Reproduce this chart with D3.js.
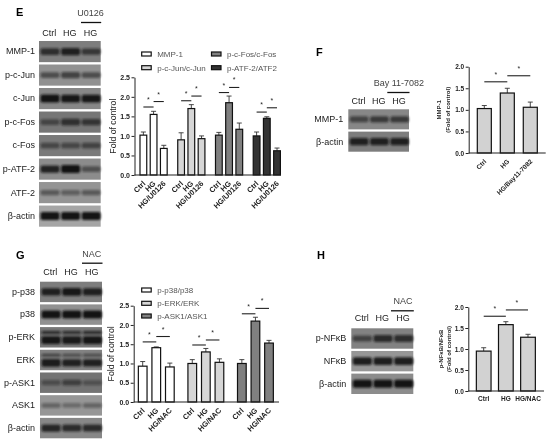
<!DOCTYPE html>
<html>
<head>
<meta charset="utf-8">
<script src="https://cdn.jsdelivr.net/npm/d3@7/dist/d3.min.js"></script>
<style>
  html, body { margin: 0; padding: 0; background: #fff; }
  svg { display: block; filter: blur(0.4px); }
  text { font-family: "Liberation Sans", Arial, sans-serif; fill: #262626; }
  .letter { font-size: 11px; font-weight: bold; fill: #000; }
  .blotLabel { font-size: 9px; fill: #444; }
  .legend { font-size: 8px; fill: #555; }
  .tick text { fill: #222; }
</style>
</head>
<body>
<div id="chart"></div>
<script>

//panel E bar values
var eGroups = ["MMP-1", "p-c-Jun/c-Jun", "p-c-Fos/c-Fos", "p-ATF-2/ATF2"];
var eConds = ["Ctrl", "HG", "HG/U0126"];
var eMmp = [1.02, 1.55, 0.68];
var eJun = [0.90, 1.70, 0.93];
var eFos = [1.02, 1.85, 1.17];
var eAtf = [1.00, 1.45, 0.62];
var eMmpErr = [0.08, 0.08, 0.08];
var eJunErr = [0.18, 0.10, 0.07];
var eFosErr = [0.07, 0.17, 0.16];
var eAtfErr = [0.10, 0.04, 0.07];
var eSig = [[1.74, 1.88], [1.90, 2.02], [2.11, 2.24], [1.61, 1.72]];
var eFills = ["#ffffff", "#d6d6d6", "#808080", "#333333"];
var eTicks = [0, 0.5, 1, 1.5, 2, 2.5];

//panel F bar values
var fConds = ["Ctrl", "HG", "HG/Bay11-7082"];
var fVals = [1.03, 1.39, 1.06];
var fErr = [0.07, 0.11, 0.12];
var fSig = [[1.65, 1.79]];
var fTicks = [0, 0.5, 1, 1.5, 2];

//panel G bar values
var gGroups = ["p-p38/p38", "p-ERK/ERK", "p-ASK1/ASK1"];
var gConds = ["Ctrl", "HG", "HG/NAC"];
var gP38 = [0.93, 1.41, 0.91];
var gErk = [1.00, 1.30, 1.03];
var gAsk = [1.00, 2.10, 1.53];
var gP38Err = [0.12, 0.02, 0.10];
var gErkErr = [0.10, 0.09, 0.09];
var gAskErr = [0.10, 0.10, 0.07];
var gSig = [[1.56, 1.70], [1.48, 1.61], [2.29, 2.43]];
var gFills = ["#ffffff", "#d6d6d6", "#808080"];

//panel H bar values
var hConds = ["Ctrl", "HG", "HG/NAC"];
var hVals = [0.95, 1.58, 1.28];
var hErr = [0.08, 0.07, 0.07];
var hSig = [[1.78, 1.93]];

//blots: row names, background grey level, band density per lane (0-1)
var eBlots = ["MMP-1", "p-c-Jun", "c-Jun", "p-c-Fos", "c-Fos", "p-ATF-2", "ATF-2", "β-actin"];
var eBlotGrey = [125, 145, 135, 118, 122, 140, 148, 165];
var eBands = [[0.7, 0.85, 0.6], [0.45, 0.55, 0.45], [1, 0.95, 0.95], [0.4, 0.65, 0.6], [0.4, 0.4, 0.45], [0.85, 1, 0.4], [0.35, 0.3, 0.35], [1, 1, 1]];
var fBlots = ["MMP-1", "β-actin"];
var fBlotGrey = [135, 125];
var fBands = [[0.5, 0.6, 0.6], [0.85, 0.85, 0.85]];
var gBlots = ["p-p38", "p38", "p-ERK", "ERK", "p-ASK1", "ASK1", "β-actin"];
var gBlotGrey = [125, 145, 120, 130, 115, 150, 135];
var gBands = [[0.85, 0.95, 0.85], [1, 1, 1], [0.95, 0.9, 0.95], [0.9, 0.85, 0.85], [0.3, 0.45, 0.25], [0.25, 0.2, 0.25], [0.8, 0.75, 0.75]];
var gUpper = [[0, 0, 0], [0, 0, 0], [0.75, 0.7, 0.75], [0.5, 0.4, 0.4], [0, 0, 0], [0, 0, 0], [0, 0, 0]];
var hBlots = ["p-NFκB", "NFκB", "β-actin"];
var hBlotGrey = [130, 150, 140];
var hBands = [[0.5, 0.75, 0.7], [0.9, 0.9, 0.9], [1, 1, 1]];

var laneNames = ["Ctrl", "HG", "HG"];


var svg = d3.select("#chart")
  .append("svg")
  .attr("width", 550)
  .attr("height", 445);

//soft edge for the blot bands
svg.append("defs")
  .append("filter")
  .attr("id", "soft")
  .attr("x", "-30%").attr("y", "-150%")
  .attr("width", "160%").attr("height", "400%")
  .append("feGaussianBlur")
  .attr("stdDeviation", 1.3);

var bandHeight = d3.scaleLinear().domain([0, 1]).range([4, 8]);
var bandOpacity = d3.scaleLinear().domain([0, 1]).range([0.15, 0.95]);


//panel letters
[["E", 16, 16], ["F", 316, 56], ["G", 16, 259], ["H", 317, 259]].forEach(function (d) {
  svg.append("text").attr("class", "letter").attr("x", d[1]).attr("y", d[2]).text(d[0]);
});


function drawBlot(b) {
  var rows = d3.scaleBand().domain(b.names).range([b.top, b.bottom]).paddingInner(0.1);
  var lanes = d3.scaleBand().domain([0, 1, 2]).range([b.left, b.right]).padding(0);

  var g = svg.append("g");

  //row backgrounds
  g.selectAll(".blotRow")
    .data(b.names)
    .enter()
    .append("rect")
    .attr("class", "blotRow")
    .attr("x", b.left)
    .attr("y", function (d) { return rows(d); })
    .attr("width", b.right - b.left)
    .attr("height", rows.bandwidth())
    .attr("fill", function (d, i) { return d3.rgb(b.grey[i], b.grey[i], b.grey[i]); });

  //bands, one per lane and row
  b.names.forEach(function (name, i) {
    var hasUpper = b.upper && d3.max(b.upper[i]) > 0;
    var bandY = rows(name) + rows.bandwidth() * (hasUpper ? 0.64 : 0.5);

    g.selectAll(".band" + i)
      .data(b.bands[i])
      .enter()
      .append("rect")
      .attr("class", "band" + i)
      .attr("filter", "url(#soft)")
      .attr("x", function (d, j) { return lanes(j) + 1.5; })
      .attr("width", lanes.bandwidth() - 1.5)
      .attr("y", function (d) { return bandY - bandHeight(d) / 2; })
      .attr("height", function (d) { return bandHeight(d); })
      .attr("rx", 2)
      .attr("fill", "#111")
      .attr("opacity", function (d) { return bandOpacity(d); });

    if (hasUpper) {
      g.selectAll(".upper" + i)
        .data(b.upper[i])
        .enter()
        .append("rect")
        .attr("class", "upper" + i)
        .attr("filter", "url(#soft)")
        .attr("x", function (d, j) { return lanes(j) + 1.5; })
        .attr("width", lanes.bandwidth() - 1.5)
        .attr("y", rows(name) + rows.bandwidth() * 0.27 - 1.5)
        .attr("height", 3)
        .attr("rx", 1.5)
        .attr("fill", "#111")
        .attr("opacity", function (d) { return bandOpacity(d); });
    }
  });

  //row names
  g.append("g")
    .attr("transform", "translate(" + b.left + ",0)")
    .call(d3.axisLeft(rows).tickSize(0).tickPadding(b.labelGap))
    .call(function (a) { a.select(".domain").remove(); })
    .selectAll("text")
    .attr("class", "blotLabel")
    .style("font-family", null);

  //lane names
  g.append("g")
    .attr("transform", "translate(0," + b.laneY + ")")
    .call(d3.axisTop(lanes).tickSize(0).tickPadding(0).tickFormat(function (i) { return laneNames[i]; }))
    .call(function (a) { a.select(".domain").remove(); })
    .selectAll("text")
    .attr("class", "blotLabel")
    .attr("dy", 0);

  //treatment above the last lane
  g.append("text")
    .attr("class", "blotLabel")
    .attr("text-anchor", "middle")
    .attr("x", lanes(2) + lanes.bandwidth() / 2)
    .attr("y", b.drugY)
    .text(b.drug);

  g.append("line")
    .attr("x1", b.lineLeft)
    .attr("x2", b.right + 0.5)
    .attr("y1", b.drugY + 6.5)
    .attr("y2", b.drugY + 6.5)
    .attr("stroke", "#111")
    .attr("stroke-width", 1.3);
}


function drawBars(c) {
  var y = d3.scaleLinear().domain(c.yDomain).range([c.y0, c.y1]);
  var outer = d3.scaleBand().domain(c.series.map(function (d, i) { return i; }))
    .range([c.x0, c.x1]).paddingInner(c.groupPad);
  var inner = d3.scaleBand().domain(c.conds)
    .range([0, outer.bandwidth()]).paddingInner(c.barPad);
  var center = function (d) { return inner(d) + inner.bandwidth() / 2; };

  var g = svg.append("g");

  c.series.forEach(function (vals, i) {
    var group = g.append("g").attr("transform", "translate(" + outer(i) + ",0)");
    var rowsData = c.conds.map(function (d, j) { return { cond: d, v: vals[j], e: c.errs[i][j] }; });

    //error bars
    group.selectAll(".err")
      .data(rowsData)
      .enter()
      .append("path")
      .attr("class", "err")
      .attr("fill", "none")
      .attr("stroke", "#333")
      .attr("stroke-width", 0.9)
      .attr("d", function (d) {
        var x = center(d.cond);
        return "M" + x + "," + y(d.v) + "V" + y(d.v + d.e) + "M" + (x - 2.5) + "," + y(d.v + d.e) + "H" + (x + 2.5);
      });

    //bars
    group.selectAll(".bar")
      .data(rowsData)
      .enter()
      .append("rect")
      .attr("class", "bar")
      .attr("x", function (d) { return inner(d.cond); })
      .attr("y", function (d) { return y(d.v); })
      .attr("width", inner.bandwidth())
      .attr("height", function (d) { return c.y0 - y(d.v); })
      .attr("fill", c.fills[i])
      .attr("stroke", "#111")
      .attr("stroke-width", 1.2);

    //significance lines and stars
    c.sig[i].forEach(function (level, k) {
      group.append("line")
        .attr("x1", center(c.conds[k]))
        .attr("x2", center(c.conds[k + 1]))
        .attr("y1", y(level))
        .attr("y2", y(level))
        .attr("stroke", "#222")
        .attr("stroke-width", 1.1);

      group.append("text")
        .attr("x", (center(c.conds[k]) + center(c.conds[k + 1])) / 2)
        .attr("y", y(level) - 5)
        .attr("text-anchor", "middle")
        .style("font-size", "7px")
        .text("*");
    });

    //x axis labels
    var xAxis = group.append("g")
      .attr("transform", "translate(0," + c.y0 + ")")
      .call(d3.axisBottom(inner).tickSize(0))
      .call(function (a) { a.select(".domain").remove(); });

    var labels = xAxis.selectAll("text")
      .style("font-size", c.xFont + "px")
      .style("font-weight", "bold")
      .style("font-family", null);

    if (c.rotate) {
      labels.attr("y", 0)
        .attr("dy", 0)
        .attr("text-anchor", "end")
        .attr("transform", "translate(2.5," + c.xGap + ") rotate(-45)");
    } else {
      labels.attr("y", c.xGap).attr("dy", "0.71em");
    }
  });

  //baseline
  g.append("line")
    .attr("x1", c.yAxisX)
    .attr("x2", c.xEnd)
    .attr("y1", c.y0)
    .attr("y2", c.y0)
    .attr("stroke", "#222")
    .attr("stroke-width", 1.1);

  //y axis
  g.append("g")
    .attr("transform", "translate(" + c.yAxisX + ",0)")
    .call(d3.axisLeft(y).tickValues(c.ticks).tickSize(3).tickPadding(1.5).tickSizeOuter(0).tickFormat(d3.format(".1f")))
    .call(function (a) {
      a.selectAll("line,.domain").attr("stroke", "#222");
      a.selectAll("text").style("font-size", c.tickFont + "px").style("font-weight", "bold").style("font-family", null);
    });

  //y title
  c.title.forEach(function (t, i) {
    g.append("text")
      .attr("transform", "translate(" + c.titleX[i] + "," + ((c.y0 + c.y1) / 2) + ") rotate(-90)")
      .attr("text-anchor", "middle")
      .style("font-size", c.titleFont + "px")
      .style("font-weight", c.titleWeight)
      .text(t);
  });
}


function drawLegend(names, fills, spots) {
  var items = svg.selectAll(null)
    .data(names)
    .enter()
    .append("g")
    .attr("transform", function (d, i) { return "translate(" + spots[i][0] + "," + spots[i][1] + ")"; });

  items.append("rect")
    .attr("x", 0)
    .attr("y", -2)
    .attr("width", 9.5)
    .attr("height", 4)
    .attr("fill", function (d, i) { return fills[i]; })
    .attr("stroke", "#111")
    .attr("stroke-width", 1.2);

  items.append("text")
    .attr("class", "legend")
    .attr("x", 15.5)
    .attr("y", 3)
    .text(function (d) { return d; });
}


//panel E
drawBlot({ names: eBlots, grey: eBlotGrey, bands: eBands, left: 39, right: 100.7, top: 41, bottom: 226.7, laneY: 35.6, drug: "U0126", drugY: 16, lineLeft: 81, labelGap: 4 });
drawBars({
  series: [eMmp, eJun, eFos, eAtf], errs: [eMmpErr, eJunErr, eFosErr, eAtfErr], sig: eSig, conds: eConds, fills: eFills,
  yDomain: [0, 2.5], ticks: eTicks, y0: 175, y1: 77.3, x0: 140, x1: 280.4, groupPad: 0.28, barPad: 0.34,
  yAxisX: 134.5, xEnd: 281, rotate: true, xGap: 9, xFont: 7.5, tickFont: 7, title: ["Fold of control"], titleX: [116], titleFont: 8.7, titleWeight: "normal"
});
drawLegend(eGroups, eFills, [[141.7, 54], [141.7, 67.7], [211.5, 54], [211.5, 67.7]]);

//panel F
drawBlot({ names: fBlots, grey: fBlotGrey, bands: fBands, left: 348.3, right: 409, top: 109.3, bottom: 151.7, laneY: 104, drug: "Bay 11-7082", drugY: 86, lineLeft: 387.3, labelGap: 5 });
drawBars({
  series: [fVals], errs: [fErr], sig: [fSig[0]], conds: fConds, fills: ["#d2d2d2"],
  yDomain: [0, 2], ticks: fTicks, y0: 153, y1: 66.7, x0: 477.3, x1: 537.3, groupPad: 0, barPad: 0.39,
  yAxisX: 468.7, xEnd: 545.7, rotate: true, xGap: 9, xFont: 6.5, tickFont: 6.5, title: ["MMP-1", "(Fold of control)"], titleX: [441, 449.5], titleFont: 6, titleWeight: "bold"
});

//panel G
drawBlot({ names: gBlots, grey: gBlotGrey, bands: gBands, upper: gUpper, left: 40, right: 102, top: 281.7, bottom: 438.3, laneY: 275, drug: "NAC", drugY: 256.7, lineLeft: 82, labelGap: 5 });
drawBars({
  series: [gP38, gErk, gAsk], errs: [gP38Err, gErkErr, gAskErr], sig: gSig, conds: gConds, fills: gFills,
  yDomain: [0, 2.5], ticks: eTicks, y0: 402, y1: 305.7, x0: 138.35, x1: 273.35, groupPad: 0.277, barPad: 0.36,
  yAxisX: 133.7, xEnd: 279, rotate: true, xGap: 9, xFont: 7.5, tickFont: 7, title: ["Fold of control"], titleX: [114], titleFont: 8.7, titleWeight: "normal"
});
drawLegend(gGroups, gFills, [[141.7, 290], [141.7, 303.3], [141.7, 316]]);

//panel H
drawBlot({ names: hBlots, grey: hBlotGrey, bands: hBands, left: 351.3, right: 413.3, top: 328.3, bottom: 394, laneY: 321.3, drug: "NAC", drugY: 304.3, lineLeft: 391, labelGap: 5 });
drawBars({
  series: [hVals], errs: [hErr], sig: [hSig[0]], conds: hConds, fills: ["#d2d2d2"],
  yDomain: [0, 2], ticks: fTicks, y0: 391, y1: 307, x0: 476.35, x1: 535.35, groupPad: 0, barPad: 0.336,
  yAxisX: 468.3, xEnd: 544, rotate: false, xGap: 5, xFont: 6.5, tickFont: 6.5, title: ["p-NFκB/NFκB", "(Fold of control)"], titleX: [443, 451], titleFont: 6, titleWeight: "bold"
});

</script>
</body>
</html>
